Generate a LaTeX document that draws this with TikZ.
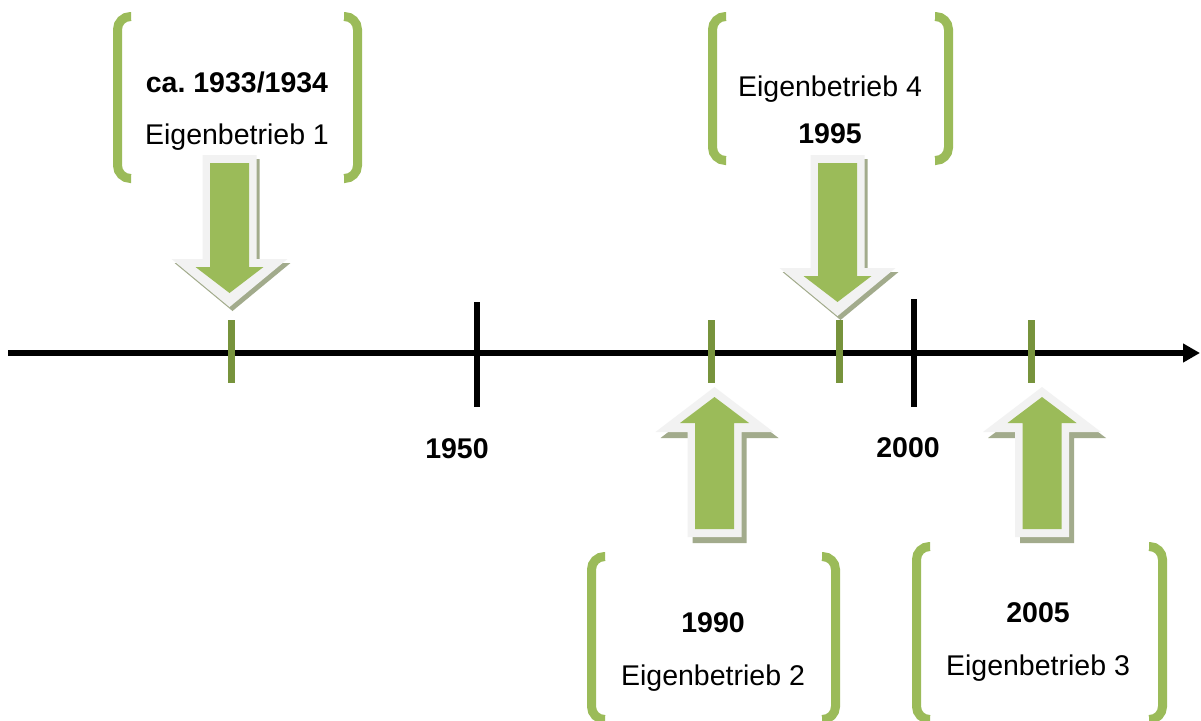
\documentclass[tikz,border=0pt]{standalone}
\usepackage{fontspec}
\setmainfont{Liberation Sans}
\usetikzlibrary{arrows.meta}
\definecolor{brk}{HTML}{9BBB59}
\definecolor{evt}{HTML}{77933C}
\definecolor{rim}{HTML}{F2F2F2}
\definecolor{shad}{HTML}{A2AB8C}
\tikzset{
  bracket/.style={draw=brk,line width=9pt,rounded corners=13pt},
  yeartick/.style={draw=black,line width=5.5pt},
  evtick/.style={draw=evt,line width=7pt},
  axis/.style={draw=black,line width=5.5pt,-{Triangle[length=17pt,width=18pt]}},
  lbl/.style={font=\fontsize{28.5}{34}\selectfont\frenchspacing,anchor=base,inner sep=0pt},
  blbl/.style={font=\fontsize{28.5}{34}\selectfont\bfseries\frenchspacing,anchor=base,inner sep=0pt},
  pics/downarr/.style={code={
    \fill[shad] (-24,4)--(30,4)--(30,#1+4)--(61,#1+4)--(3,#1+52)--(-55,#1+4)--(-24,#1+4)--cycle;
    \fill[rim] (-27,0)--(27,0)--(27,#1)--(58,#1)--(0,#1+48)--(-58,#1)--(-27,#1)--cycle;
    \fill[brk] (-19.5,8)--(19.5,8)--(19.5,#1+8)--(34,#1+8)--(0,#1+34)--(-34,#1+8)--(-19.5,#1+8)--cycle;
  }},
  pics/uparr/.style={code={
    \fill[shad] (5,6)--(64,51)--(32,51)--(32,156)--(-22,156)--(-22,51)--(-54,51)--cycle;
    \fill[rim] (0,0)--(59,45)--(27,45)--(27,150)--(-27,150)--(-27,45)--(-59,45)--cycle;
    \fill[brk] (0,10)--(34.5,36)--(19.5,36)--(19.5,142)--(-19.5,142)--(-19.5,36)--(-34.5,36)--cycle;
  }}
}
\begin{document}
\begin{tikzpicture}[x=1pt,y=-1pt]
\useasboundingbox (0,0) rectangle (1201,720);
\fill[white] (0,0) rectangle (1201,720);

% timeline
\coordinate (axstart) at (8,353);
\coordinate (axend) at (1200,353);
\draw[axis] (axstart) -- (axend);

% year ticks
\coordinate (t1950a) at (477,302); \coordinate (t1950b) at (477,407);
\coordinate (t2000a) at (914,299); \coordinate (t2000b) at (914,407);
\draw[yeartick] (t1950a) -- (t1950b);
\draw[yeartick] (t2000a) -- (t2000b);
\node[blbl] (y1950) at (457,458) {1950};
\node[blbl] (y2000) at (908,457) {2000};

% event ticks
\coordinate (e1a) at (231,320); \coordinate (e1b) at (231,383);
\coordinate (e2a) at (711,320); \coordinate (e2b) at (711,383);
\coordinate (e4a) at (839,320); \coordinate (e4b) at (839,383);
\coordinate (e3a) at (1031,320); \coordinate (e3b) at (1031,383);
\draw[evtick] (e1a) -- (e1b);
\draw[evtick] (e2a) -- (e2b);
\draw[evtick] (e4a) -- (e4b);
\draw[evtick] (e3a) -- (e3b);

% block arrows
\pic at (229.5,155) {downarr=104};
\pic at (837.5,155) {downarr=113};
\pic at (714.5,387) {uparr};
\pic at (1042,387) {uparr};

% box 1
\draw[bracket] (131,16.5) -- (117.5,16.5) -- (117.5,178.5) -- (131,178.5);
\draw[bracket] (344,16.5) -- (357.5,16.5) -- (357.5,178.5) -- (344,178.5);
\node[blbl] (b1y) at (237,92) {ca. 1933/1934};
\node[lbl] (b1t) at (237,144) {Eigenbetrieb 1};

% box 4
\draw[bracket] (726,16.5) -- (712.5,16.5) -- (712.5,160.5) -- (726,160.5);
\draw[bracket] (935,16.5) -- (948.5,16.5) -- (948.5,160.5) -- (935,160.5);
\node[lbl] (b4t) at (830,96) {Eigenbetrieb 4};
\node[blbl] (b4y) at (830,143) {1995};

% box 2
\draw[bracket] (605,556.5) -- (591.5,556.5) -- (591.5,719.5) -- (605,719.5);
\draw[bracket] (822,556.5) -- (835.5,556.5) -- (835.5,719.5) -- (822,719.5);
\node[blbl] (b2y) at (713,632) {1990};
\node[lbl] (b2t) at (713,685) {Eigenbetrieb 2};

% box 3
\draw[bracket] (930,546.5) -- (916.5,546.5) -- (916.5,719.5) -- (930,719.5);
\draw[bracket] (1149,546.5) -- (1162.5,546.5) -- (1162.5,719.5) -- (1149,719.5);
\node[blbl] (b3y) at (1038,622) {2005};
\node[lbl] (b3t) at (1038,675) {Eigenbetrieb 3};
\end{tikzpicture}
\end{document}
